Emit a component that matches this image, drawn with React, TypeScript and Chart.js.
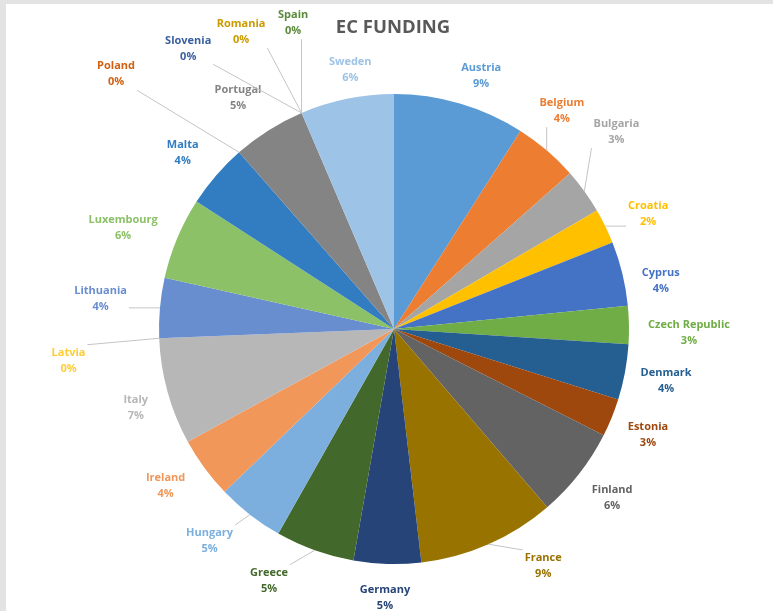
import { useEffect, useRef } from 'react';
import { Chart, registerables } from 'chart.js';

Chart.register(...registerables);

const title = 'EC FUNDING';

const categories = [
  'Austria', 'Belgium', 'Bulgaria', 'Croatia', 'Cyprus', 'Czech Republic', 'Denmark', 'Estonia',
  'Finland', 'France', 'Germany', 'Greece', 'Hungary', 'Ireland', 'Italy', 'Latvia', 'Lithuania',
  'Luxembourg', 'Malta', 'Poland', 'Portugal', 'Romania', 'Slovenia', 'Spain', 'Sweden',
];

const values = [
  9.0, 4.4, 3.1, 2.4, 4.4, 2.6, 3.8, 2.6,
  6.2, 9.4, 4.6, 5.4, 4.6, 4.2, 7.3, 0, 4.1,
  5.6, 4.4, 0, 5.0, 0, 0, 0, 6.4,
];

const colors = [
  '#5B9BD5', '#ED7D31', '#A5A5A5', '#FFC000', '#4472C4', '#70AD47', '#255E91', '#9E480E',
  '#636363', '#997300', '#264478', '#43682B', '#7CAFDD', '#F1975A', '#B7B7B7', '#FFCD33', '#698ED0',
  '#8CC168', '#327DC2', '#D26012', '#848484', '#CC9A00', '#3A5FA0', '#5A8A39', '#9DC3E6',
];

// label layout: angular nudge (degrees) from slice mid-angle, and distance (relative to a 235px radius)
const labelAngleShift = [
  2.7, -2.9, -5.6, 1.6, 3.5, 1.8, 0.2, 0.4,
  -0.3, -8.5, 0.3, 6.7, 3.2, 1.8, -1.5, -3.3, 0.7,
  -2.3, -1.0, -6.25, -1.8, -4.1, -13.1, 4.9, 2.0,
];
const labelDistance = [
  268, 275, 297, 279, 271, 295, 277, 275,
  276, 280, 269, 281, 281, 277, 270, 327, 295,
  289, 275, 377, 279, 334, 348, 322, 263,
];

const FONT = '"Open Sans", "DejaVu Sans", sans-serif';

const labelPlugin = {
  id: 'pieLabels',
  afterDraw(chart: any) {
    const ctx = chart.ctx as CanvasRenderingContext2D;
    const meta = chart.getDatasetMeta(0);
    const total = values.reduce((a, b) => a + b, 0);
    ctx.save();
    // title
    ctx.fillStyle = '#595959';
    ctx.font = `bold 18.5px ${FONT}`;
    ctx.textAlign = 'center';
    ctx.textBaseline = 'middle';
    ctx.fillText(title, 393, 28);

    ctx.font = `bold 11px ${FONT}`;
    meta.data.forEach((arc: any, i: number) => {
      const r = arc.outerRadius;
      const cx = arc.x;
      const cy = arc.y;
      const mid = (arc.startAngle + arc.endAngle) / 2;
      const a = mid + (labelAngleShift[i] * Math.PI) / 180;
      const d = (labelDistance[i] / 235) * r;
      const lx = cx + Math.cos(a) * d;
      const ly = cy + Math.sin(a) * d;
      const name = categories[i];
      const pct = Math.round((values[i] / total) * 100) + '%';
      const w = Math.max(ctx.measureText(name).width, ctx.measureText(pct).width) + 4;
      const h = 32;
      const bx0 = lx - w / 2, bx1 = lx + w / 2, by0 = ly - h / 2, by1 = ly + h / 2;
      // leader line
      const px = cx + Math.cos(mid) * r;
      const py = cy + Math.sin(mid) * r;
      const qx = Math.min(Math.max(px, bx0), bx1);
      const qy = Math.min(Math.max(py, by0), by1);
      const gap = Math.hypot(qx - px, qy - py);
      if (gap > 18) {
        ctx.strokeStyle = '#c4c4c4';
        ctx.lineWidth = 1;
        ctx.beginPath();
        ctx.moveTo(px, py);
        ctx.lineTo(qx, qy);
        ctx.stroke();
      }
      ctx.fillStyle = colors[i];
      ctx.fillText(name, lx, ly - 8);
      ctx.fillText(pct, lx, ly + 8);
    });
    ctx.restore();
  },
};

export default function App() {
  const ref = useRef<HTMLCanvasElement>(null);
  useEffect(() => {
    const chart = new Chart(ref.current!, {
      type: 'pie',
      data: {
        labels: categories,
        datasets: [{ data: values, backgroundColor: colors, borderWidth: 0 }],
      },
      options: {
        responsive: false,
        animation: false,
        layout: { padding: { left: 159, right: 144, top: 94, bottom: 47 } },
        plugins: {
          legend: { display: false },
          tooltip: { enabled: false },
          title: { display: false },
        },
      },
      plugins: [labelPlugin],
    });
    return () => chart.destroy();
  }, []);
  return (
    <div style={{ position: 'fixed', left: 0, top: 0, width: 773, height: 611, background: '#e3e3e3' }}>
      <div style={{ position: 'absolute', left: 6, top: 4, right: 0, bottom: 0, background: '#ffffff' }} />
      <canvas
        ref={ref}
        width={773}
        height={611}
        style={{ position: 'absolute', left: 0, top: 0, width: 773, height: 611 }}
      />
    </div>
  );
}
